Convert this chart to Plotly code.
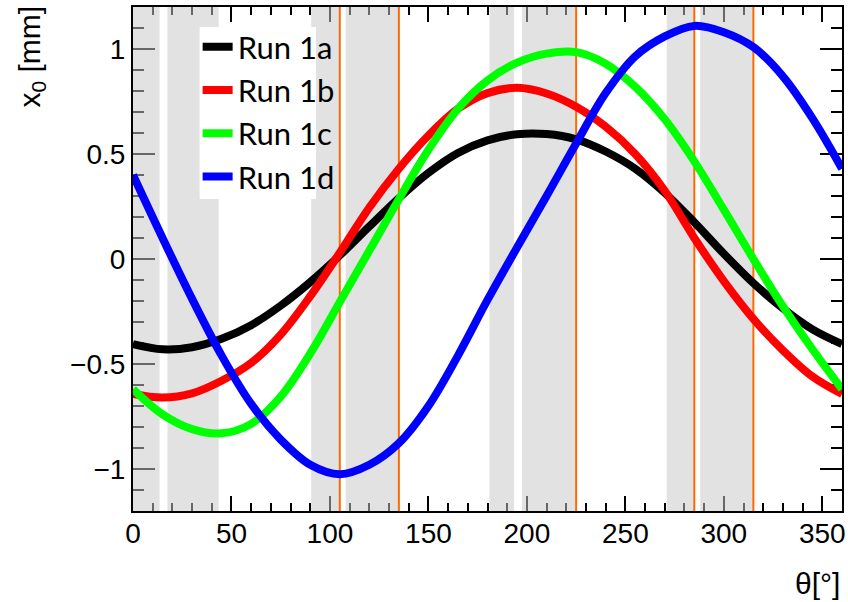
import plotly.graph_objects as go

theta = [0, 15, 30, 45, 60, 75, 90, 105, 120, 135, 150, 165, 180,
         195, 210, 225, 240, 255, 270, 285, 300, 315, 330, 345, 360]

run_1a = [-0.405, -0.43, -0.42, -0.38, -0.315, -0.222, -0.11, 0.017, 0.155, 0.29,
          0.41, 0.505, 0.565, 0.594, 0.595, 0.57, 0.512, 0.43, 0.315, 0.175,
          0.025, -0.115, -0.235, -0.335, -0.405]
run_1b = [-0.643, -0.66, -0.64, -0.58, -0.495, -0.36, -0.177, 0.03, 0.245, 0.43,
          0.588, 0.715, 0.79, 0.815, 0.788, 0.725, 0.63, 0.50, 0.325, 0.10,
          -0.105, -0.285, -0.435, -0.56, -0.643]
run_1c = [-0.62, -0.74, -0.81, -0.83, -0.785, -0.655, -0.45, -0.205, 0.04, 0.285,
          0.52, 0.715, 0.85, 0.935, 0.978, 0.985, 0.93, 0.82, 0.665, 0.465,
          0.235, 0.0, -0.225, -0.43, -0.62]
run_1d = [0.40, 0.10, -0.19, -0.46, -0.69, -0.86, -0.98, -1.025, -0.98, -0.877,
          -0.70, -0.46, -0.195, 0.055, 0.30, 0.55, 0.79, 0.965, 1.06, 1.11,
          1.08, 1.009, 0.87, 0.67, 0.43]

series_names = ["Run 1a", "Run 1b", "Run 1c", "Run 1d"]
series_colors = ["#000000", "#ff0000", "#00ff00", "#0000ff"]

band_starts = [0, 17.5, 90.5, 108, 181, 197.5, 271, 288]
band_ends = [13.5, 43.5, 105, 135, 193.5, 225, 285, 315]

orange_lines = [105, 135, 225, 285, 315]

x_range = [0, 360]
y_range = [-1.2, 1.2]

fig = go.Figure()

# grey bands
bx, by = [], []
for a, b in zip(band_starts, band_ends):
    bx += [a, a, b, b, a, None]
    by += [y_range[0], y_range[1], y_range[1], y_range[0], y_range[0], None]
fig.add_trace(go.Scatter(x=bx, y=by, mode="lines", fill="toself",
                         fillcolor="rgba(200,200,200,0.52)",
                         line=dict(width=0, color="rgba(0,0,0,0)"),
                         showlegend=False, hoverinfo="skip"))

# orange vertical lines
ox, oy = [], []
for v in orange_lines:
    ox += [v, v, None]
    oy += [y_range[0], y_range[1], None]
fig.add_trace(go.Scatter(x=ox, y=oy, mode="lines",
                         line=dict(width=2, color="#ff6a00"),
                         showlegend=False, hoverinfo="skip"))

for name, col, ys in zip(series_names, series_colors, [run_1a, run_1b, run_1c, run_1d]):
    fig.add_trace(go.Scatter(x=theta, y=ys, mode="lines", name=name,
                             line=dict(color=col, width=8, shape="spline", smoothing=1.0)))

W, H = 848, 602
ml, mr, mt, mb = 133, 2, 7, 91
pw, ph = W - ml - mr, H - mt - mb

def px2x(p):
    return (p - ml) / pw

def py2y(p):
    return (H - mb - p) / ph

axis_common = dict(
    showline=True, linecolor="black", linewidth=2,
    ticks="inside", tickcolor="black", tickwidth=2,
    mirror="allticks", showgrid=False, zeroline=False,
    layer="below traces",
    tickfont=dict(family="Liberation Sans", size=28, color="black"),
)

fig.update_layout(
    width=W, height=H,
    margin=dict(l=ml, r=mr, t=mt, b=mb),
    paper_bgcolor="white", plot_bgcolor="white",
    xaxis=dict(range=x_range, tick0=0, dtick=50, ticklen=15, ticklabelstandoff=-4,
               minor=dict(dtick=10, ticklen=8, tickwidth=2, tickcolor="black", ticks="inside"),
               **axis_common),
    yaxis=dict(range=y_range, tick0=0, dtick=0.5, ticklen=22,
               minor=dict(dtick=0.1, ticklen=11, tickwidth=2, tickcolor="black", ticks="inside"),
               **axis_common),
    showlegend=True,
    legend=dict(x=px2x(198), y=py2y(20), xanchor="left", yanchor="top",
                bgcolor="rgba(0,0,0,0)", borderwidth=0,
                font=dict(family="Lato", size=31, color="black"),
                itemwidth=30, tracegroupgap=0),
    shapes=[dict(type="rect", xref="paper", yref="paper",
                 x0=px2x(200), x1=px2x(317), y0=py2y(199), y1=py2y(27),
                 fillcolor="white", line=dict(width=0), layer="above")],
    annotations=[
        dict(text="x<sub>0</sub> [mm]", xref="paper", yref="paper",
             x=px2x(30), y=py2y(4), xanchor="center", yanchor="top",
             textangle=-90, showarrow=False,
             font=dict(family="Liberation Sans", size=30, color="black")),
        dict(text="θ[°]", xref="paper", yref="paper",
             x=px2x(846), y=py2y(583), xanchor="right", yanchor="middle",
             showarrow=False,
             font=dict(family="Liberation Sans", size=30, color="black")),
    ],
)

fig.write_html("out.html")
